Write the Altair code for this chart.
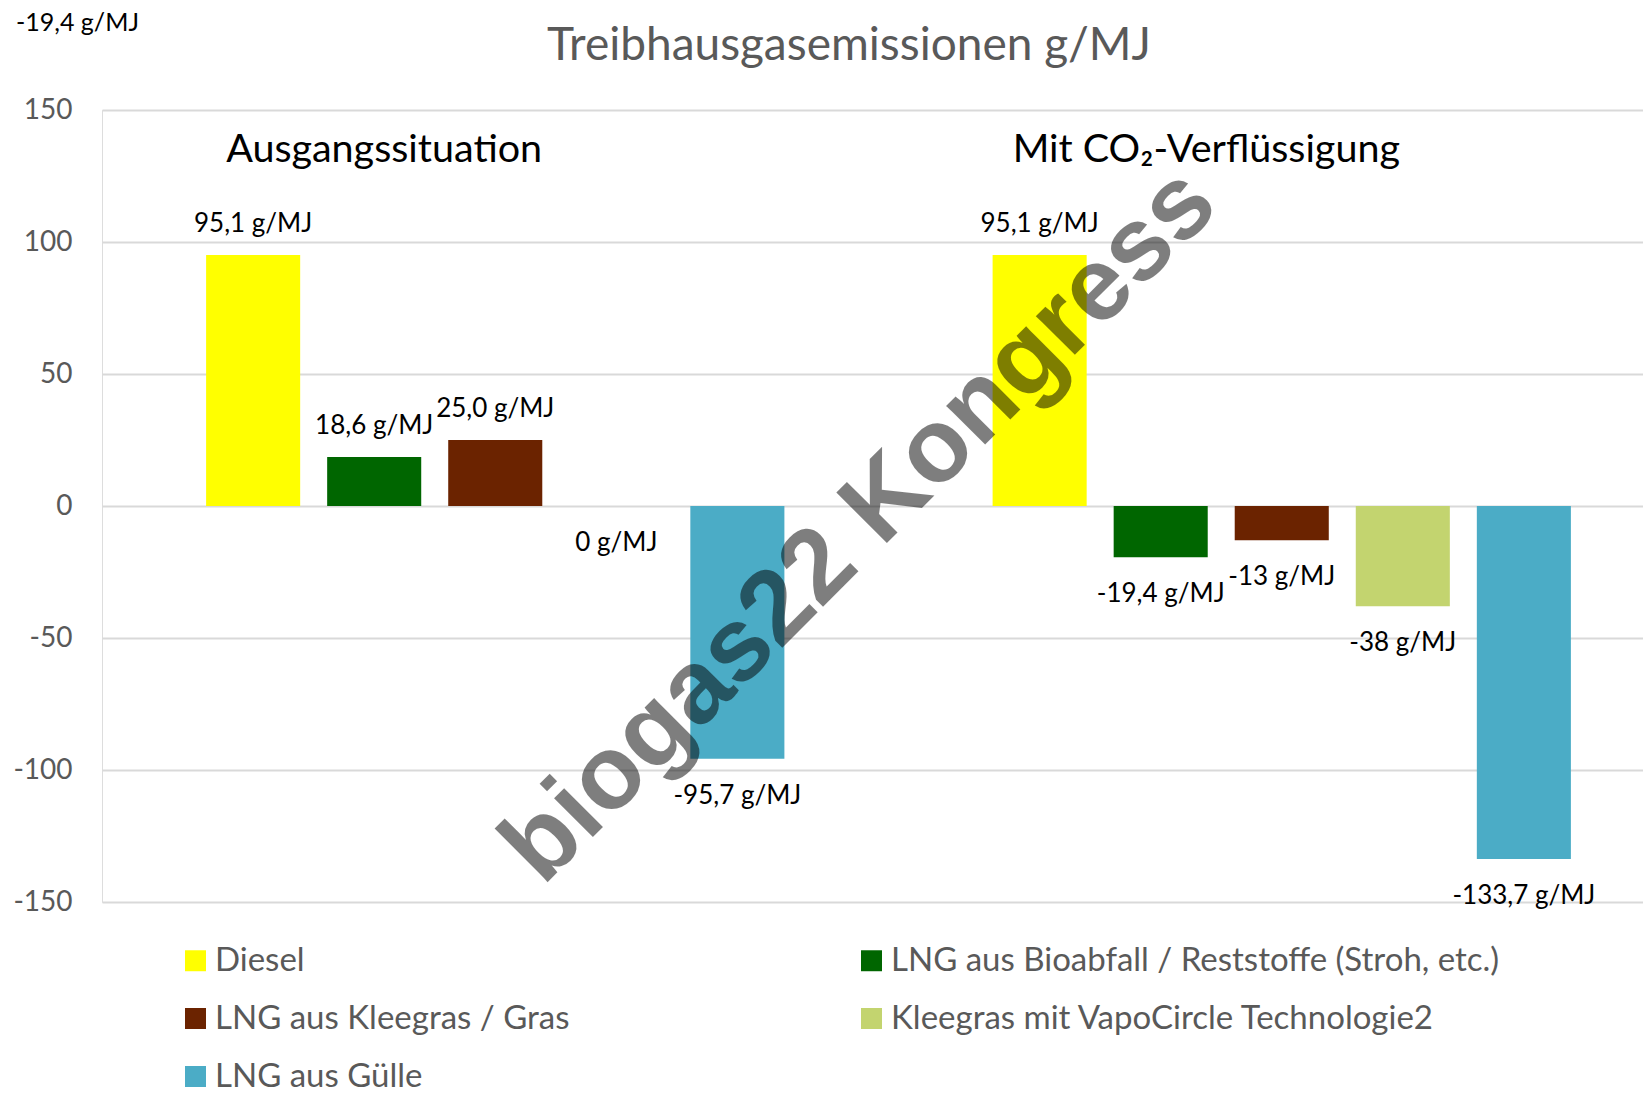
import altair as alt
import pandas as pd

# ---- data ----
groups = ["Ausgangssituation", "Mit CO₂-Verflüssigung"]
series = [
    "Diesel",
    "LNG aus Bioabfall / Reststoffe (Stroh, etc.)",
    "LNG aus Kleegras / Gras",
    "Kleegras mit VapoCircle Technologie2",
    "LNG aus Gülle",
]
values_ausgang = [95.1, 18.6, 25.0, 0.0, -95.7]
values_co2 = [95.1, -19.4, -13.0, -38.0, -133.7]
labels_ausgang = ["95,1 g/MJ", "18,6 g/MJ", "25,0 g/MJ", "0 g/MJ", "-95,7 g/MJ"]
labels_co2 = ["95,1 g/MJ", "-19,4 g/MJ", "-13 g/MJ", "-38 g/MJ", "-133,7 g/MJ"]
colors = ["#FFFF00", "#006600", "#6B2300", "#C3D46F", "#4BACC6"]
# legend is laid out column by column: first column Diesel / Kleegras / Gülle
legend_order = [series[0], series[2], series[4], series[1], series[3]]
y_ticks = [-150, -100, -50, 0, 50, 100, 150]
title_text = ["Treibhausgasemissionen g/MJ"]
stray_label = ["-19,4 g/MJ"]
watermark = ["biogas22 Kongress"]

rows = []
for g, vals, labs in [(groups[0], values_ausgang, labels_ausgang),
                      (groups[1], values_co2, labels_co2)]:
    for s, v, l in zip(series, vals, labs):
        rows.append({"group": g, "series": s, "value": v, "label": l})
df = pd.DataFrame(rows)
heads = pd.DataFrame({"group": groups, "series": [series[0]] * len(groups), "heading": groups})
color_of = dict(zip(series, colors))

FONT = "Lato"
GREY = "#595959"

x_enc = alt.X("group:N", scale=alt.Scale(domain=groups, range=[0, 1573], paddingInner=0, paddingOuter=0), axis=None)
xo_enc = alt.XOffset("series:N", scale=alt.Scale(domain=series, paddingInner=0.223, paddingOuter=0.86))
y_enc = alt.Y(
    "value:Q",
    scale=alt.Scale(domain=[-150, 150], nice=False, zero=False),
    axis=alt.Axis(values=y_ticks, title=None, grid=True, gridColor="#D9D9D9", gridWidth=2,
                  domain=False, ticks=False, labelFont=FONT, labelFontSize=28, labelColor=GREY,
                  labelPadding=30, labelExpr="'' + datum.value"),
)

bars = alt.Chart(df).mark_bar().encode(
    x=x_enc, xOffset=xo_enc, y=y_enc, y2=alt.datum(0),
    color=alt.Color("series:N",
                    scale=alt.Scale(domain=legend_order, range=[color_of[s] for s in legend_order]),
                    legend=alt.Legend(title=None, orient="none", legendX=77, legendY=834, columns=2,
                                      columnPadding=285, rowPadding=24, symbolType="square",
                                      symbolSize=440, symbolStrokeWidth=0, labelFont=FONT,
                                      labelFontSize=33, labelColor=GREY, labelOffset=3,
                                      labelLimit=2000, padding=0)),
)

pos = alt.Chart(df).transform_filter("datum.value > 0").mark_text(
    dy=-31, fontSize=26, font=FONT, color="black", baseline="middle"
).encode(x=x_enc, xOffset=xo_enc, y=alt.Y("value:Q"), text="label:N")

neg = alt.Chart(df).transform_filter("datum.value <= 0").mark_text(
    dy=37, fontSize=26, font=FONT, color="black", baseline="middle"
).encode(x=x_enc, xOffset=xo_enc, y=alt.Y("value:Q"), text="label:N")

headings = alt.Chart(heads).mark_text(
    align="left", dx=-27, fontSize=39.5, font=FONT, color="black", baseline="middle"
).encode(x=x_enc, xOffset=xo_enc, y=alt.value(40), text="heading:N")

title = alt.Chart(pd.DataFrame({"t": title_text})).mark_text(
    align="center", baseline="middle", fontSize=46, font=FONT, color=GREY
).encode(x=alt.value(747), y=alt.value(-64), text="t:N")

stray = alt.Chart(pd.DataFrame({"t": stray_label})).mark_text(
    align="left", baseline="middle", fontSize=25, font=FONT, color="black"
).encode(x=alt.value(-86), y=alt.value(-87), text="t:N")

wm = alt.Chart(pd.DataFrame({"t": watermark})).mark_text(
    angle=315, fontSize=104, font="Liberation Sans", fontWeight="bold", color="black",
    opacity=0.5, align="center", baseline="middle"
).encode(x=alt.value(758), y=alt.value(416), text="t:N")

chart = alt.layer(bars, pos, neg, headings, title, stray, wm).properties(
    width=1541, height=792,
    autosize=alt.AutoSizeParams(type="none"),
    padding={"left": 94, "top": 102, "right": 0, "bottom": 191},
).configure_view(strokeWidth=0).configure(background="white")

chart.save("out.html", embed_options={"renderer": "svg", "actions": False})
